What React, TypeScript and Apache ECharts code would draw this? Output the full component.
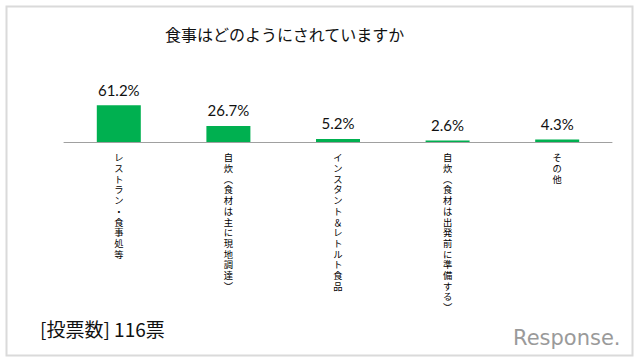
import React, { useEffect, useRef } from "react";
import * as echarts from "echarts";

const categories = [
  "レストラン・食事処等",
  "自炊︵食材は主に現地調達︶",
  "インスタント＆レトルト食品",
  "自炊︵食材は出発前に準備する︶",
  "その他",
];
const values = [61.2, 26.7, 5.2, 2.6, 4.3];
const titleText = "食事はどのようにされていますか";
const footerText = "[投票数] 116票";
const logoText = "Response.";

export default function App() {
  const ref = useRef<HTMLDivElement>(null);
  useEffect(() => {
    document.body.style.margin = "0";
    const chart = echarts.init(ref.current!, null, { renderer: "svg" });
    chart.setOption({
      animation: false,
      backgroundColor: "#ffffff",
      grid: { left: 64, right: 28, top: 82, height: 60, containLabel: false },
      xAxis: {
        type: "category",
        data: categories,
        axisLine: { show: true, lineStyle: { color: "#A0A0A0", width: 1 } },
        axisTick: { show: false },
        axisLabel: {
          interval: 0,
          margin: 10,
          color: "#000",
          fontFamily: "Noto Sans CJK JP",
          fontSize: 9.3,
          lineHeight: 10.7,
          verticalAlign: "top",
          formatter: (v: string) => Array.from(v).join("\n"),
        },
      },
      yAxis: { type: "value", min: 0, max: 100, show: false },
      series: [
        {
          type: "bar",
          data: values,
          barWidth: 44,
          itemStyle: { color: "#00B050" },
          label: {
            show: true,
            position: "top",
            distance: 8,
            formatter: (p: any) => p.value.toFixed(1) + "%",
            fontFamily: "Lato",
            fontSize: 15,
            color: "#111",
          },
        },
      ],
      graphic: [
        {
          type: "rect",
          shape: { x: 6.5, y: 6.5, width: 626, height: 349 },
          style: { fill: "none", stroke: "#DADADA", lineWidth: 2 },
          silent: true,
        },
        {
          type: "text",
          left: 165,
          top: 26,
          style: {
            text: titleText,
            fontFamily: "Noto Sans CJK JP",
            fontSize: 16,
            fill: "#111",
          },
        },
        {
          type: "text",
          left: 40,
          top: 319,
          style: {
            text: footerText,
            fontFamily: "Noto Sans CJK JP",
            fontSize: 19,
            fill: "#111",
          },
        },
        {
          type: "text",
          left: 513,
          top: 327,
          style: {
            text: logoText,
            fontFamily: "DejaVu Sans",
            fontSize: 21,
            fill: "#9A9A9A",
          },
        },
      ],
    });
    return () => chart.dispose();
  }, []);
  return <div ref={ref} style={{ width: 640, height: 362 }} />;
}
